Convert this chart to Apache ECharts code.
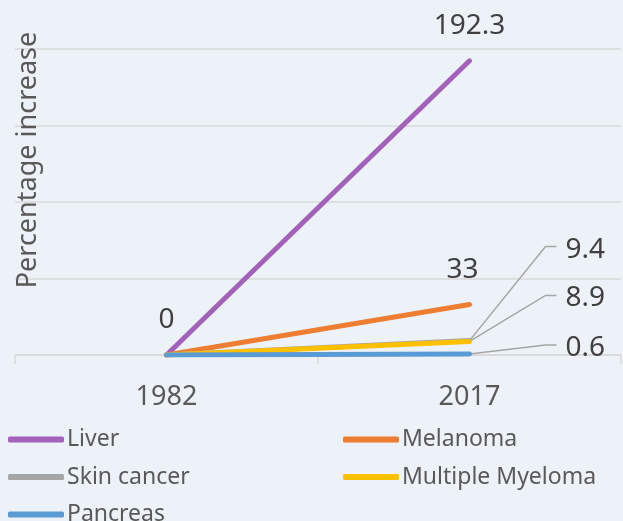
<!DOCTYPE html>
<html><head><meta charset="utf-8">
<script src="https://cdn.jsdelivr.net/npm/echarts@6/dist/echarts.min.js"></script>
<style>html,body{margin:0;padding:0;background:#EDF2F9;}#c{width:623px;height:521px;}</style>
</head><body><div id="c"></div>
<script>
const categories = ['1982', '2017'];
const liver = [0, 192.3];
const melanoma = [0, 33];
const skinCancer = [0, 9.4];
const myeloma = [0, 8.9];
const pancreas = [0, 0.6];
const yTicks = [0, 50, 100, 150, 200];

const FONT = 'Noto Sans';
const chart = echarts.init(document.getElementById('c'), null, {renderer: 'canvas'});

// vertical offsets (px) of the leader-labelled values relative to their end point
const leaderOffsets = {'Skin cancer': -91, 'Multiple Myeloma': -43, 'Pancreas': -6};

function leaderLayout(offsetY) {
  return function (p) {
    if (p.dataIndex !== 1) return {};
    const px = p.rect.x + p.rect.width / 2;
    const py = p.rect.y + p.rect.height / 2;
    return {x: px + 96, y: py + offsetY, align: 'left', verticalAlign: 'middle'};
  };
}

const labelBase = {fontFamily: FONT, fontSize: 28, color: '#404040'};

function mk(name, arr, color, indices, layout) {
  return {
    name: name, type: 'line', data: arr.map((v, i) => ({
      value: v,
      label: {show: indices.indexOf(i) >= 0}
    })),
    symbol: 'circle', symbolSize: 1, showSymbol: true,
    lineStyle: {width: 5, color: color, cap: 'round'},
    itemStyle: {color: color},
    label: Object.assign({position: 'top', distance: 20}, labelBase),
    labelLayout: layout,
    emphasis: {disabled: true},
    z: 2
  };
}

const legendText = {fontFamily: FONT, fontSize: 23, color: '#595959', padding: [0, 0, 0, -2]};

chart.setOption({
  backgroundColor: '#EDF2F9',
  animation: false,
  grid: {left: 15, right: 2, top: 49, bottom: 166},
  xAxis: {
    type: 'category', data: categories, boundaryGap: true,
    axisLine: {lineStyle: {color: '#D9D9D9', width: 1.5}},
    axisTick: {show: true, length: 9, lineStyle: {color: '#D9D9D9', width: 1.5}},
    axisLabel: {fontFamily: FONT, fontSize: 27, color: '#595959', margin: 29}
  },
  yAxis: {
    type: 'value', min: yTicks[0], max: yTicks[yTicks.length - 1], interval: 50,
    axisLabel: {show: false}, axisLine: {show: false}, axisTick: {show: false},
    splitLine: {lineStyle: {color: '#D9D9D9', width: 1.5}}
  },
  legend: [{
    data: ['Liver', 'Skin cancer', 'Pancreas'], orient: 'vertical', left: 8, top: 428, height: 120, padding: 0,
    itemWidth: 56, itemHeight: 6, itemGap: 14.5, icon: 'roundRect', textStyle: legendText
  }, {
    data: ['Melanoma', 'Multiple Myeloma'], orient: 'vertical', left: 343, top: 428, height: 120, padding: 0,
    itemWidth: 56, itemHeight: 6, itemGap: 14.5, icon: 'roundRect', textStyle: legendText
  }],
  series: [
    mk('Liver', liver, '#A262BA', [0, 1], null),
    mk('Melanoma', melanoma, '#ED7D31', [1], {dx: -7}),
    mk('Skin cancer', skinCancer, '#A5A5A5', [1], leaderLayout(leaderOffsets['Skin cancer'])),
    mk('Multiple Myeloma', myeloma, '#FFC000', [1], leaderLayout(leaderOffsets['Multiple Myeloma'])),
    mk('Pancreas', pancreas, '#5B9BD5', [1], leaderLayout(leaderOffsets['Pancreas']))
  ]
});

// leader lines drawn from the data end points (pixel positions from the chart's own scales)
const graphics = [{
  type: 'text', x: 28, y: 160, rotation: Math.PI / 2, z: 1,
  style: {text: 'Percentage increase', fontFamily: FONT, fontSize: 27, fill: '#595959',
    align: 'center', verticalAlign: 'middle'}
}];
[['Skin cancer', skinCancer], ['Multiple Myeloma', myeloma], ['Pancreas', pancreas]].forEach(([name, arr]) => {
  const pt = chart.convertToPixel({gridIndex: 0}, [categories[1], arr[1]]);
  const ly = pt[1] + leaderOffsets[name] - 3;
  graphics.push({
    type: 'polyline', z: 1,
    shape: {points: [[pt[0], pt[1]], [pt[0] + 76, ly], [pt[0] + 87, ly]]},
    style: {stroke: '#A5A5A5', lineWidth: 1.5, fill: null}
  });
});
chart.setOption({graphic: graphics});
</script></body></html>
